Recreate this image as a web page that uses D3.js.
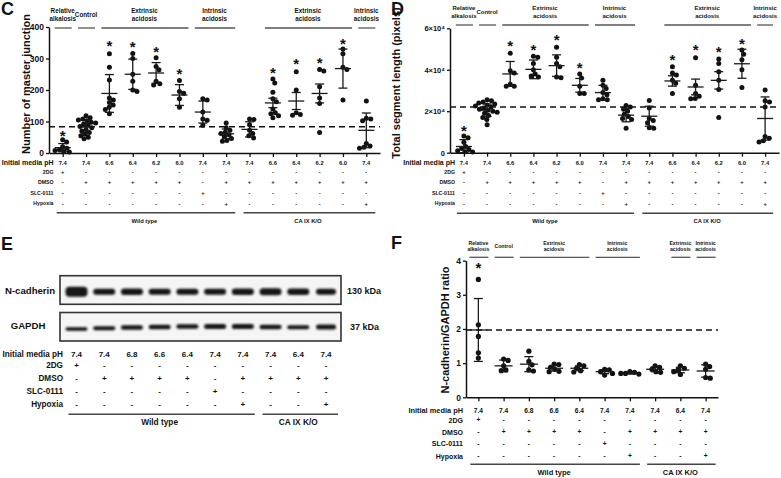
<!DOCTYPE html>
<html><head><meta charset="utf-8">
<script src="https://cdn.jsdelivr.net/npm/d3@7"></script>
<style>body{margin:0;background:#fff} svg{display:block} text{font-family:"Liberation Sans",Arial,sans-serif;fill:#111}</style>
</head><body><svg id="chart" width="781" height="478"></svg>
<script>
// ---------- condition table shared by panels C and D ----------
const cdPH      = ["7.4","7.4","6.6","6.4","6.2","6.0","7.4","7.4","7.4","6.6","6.4","6.2","6.0","7.4"];
const cd2DG     = ["+","-","-","-","-","-","-","-","-","-","-","-","-","-"];
const cdDMSO    = ["-","+","+","+","+","+","-","+","+","+","+","+","+","+"];
const cdSLC     = ["-","-","-","-","-","-","+","-","-","-","-","-","-","-"];
const cdHypoxia = ["-","-","-","-","-","-","-","+","-","-","-","-","-","+"];
const cdGroups  = [{name:"Wild type",from:0,to:7},{name:"CA IX K/O",from:8,to:13}];
const cdHeaders = [
  {lines:["Relative","alkalosis"],from:0,to:0},
  {lines:["Control"],from:1,to:1},
  {lines:["Extrinsic","acidosis"],from:2,to:5},
  {lines:["Intrinsic","acidosis"],from:6,to:7},
  {lines:["Extrinsic","acidosis"],from:9,to:12},
  {lines:["Intrinsic","acidosis"],from:13,to:13}
];
const rowLabels = ["Initial media pH","2DG","DMSO","SLC-0111","Hypoxia"];

// ---------- panel C: number of master junction ----------
const cPoints = [
  [42,35,20,15,10,8,5,3],
  [118,112,108,105,102,98,95,92,88,84,80,75,70,65,60,55,50,45],
  [315,272,232,175,168,160,152,145,138,125],
  [316,300,250,228,200,195],
  [302,275,264,228,220,216],
  [230,195,190,172,145],
  [172,168,130,108,104,88],
  [95,80,72,66,62,58,52,46,40,37],
  [108,106,90,72,62,55,48],
  [235,222,193,172,163,140,128,118,112,125],
  [258,200,128,122,120],
  [265,260,210,175,157,65],
  [330,315,272,265,168],
  [165,110,108,102,30,22,18,15]
];
const cMean = [17,83,189,250,254,184,130,61,75,159,165,189,268,72];
const cSd   = [13,22,60,48,33,33,35,15,24,15,27,30,62,55];
const cStar = [62,null,348,346,330,258,null,null,null,263,290,295,353,null];
const cRef  = 83;
const cTicks = [0,100,200,300,400];

// ---------- panel D: total segment length ----------
const dPoints = [
  [8000,7200,5000,3000,2000,1000,500,300,1500],
  [25500,25000,24500,24000,23500,23000,22500,22000,21500,21000,20500,20000,19500,19000,18000,17000,16000,13500],
  [48000,39500,38500,33000,32000,32000],
  [46500,46000,43000,40000,38000,37000,36500],
  [50800,46000,43000,41500,36500,36200],
  [38000,36000,32000,28500,28500],
  [35000,32500,31000,28000,26000,25500,25500,29000],
  [22800,22000,21000,20000,18500,17500,16500,16000,11800],
  [25200,21500,16500,15500,14500,12000,11800],
  [41500,38500,37500,35000,33500,28500],
  [45800,32500,28500,27200,26200,26000],
  [45200,43000,39000,35000,30500,17000],
  [49500,47500,44800,40000,31400],
  [30200,25000,24500,22000,7800,7000,5800,5200]
];
const dMean = [3000,20500,38000,40200,42000,32500,29000,18100,17600,34600,31700,34900,42900,16500];
const dSd   = [3300,3000,6000,4500,5200,3300,3500,3200,4800,2500,3800,4200,7000,10400];
const dStar = [11700,null,52500,50900,55400,42100,null,null,null,46100,50600,50000,53800,null];
const dRef  = 22000;
const dTicks = [0,20000,40000,60000];

// ---------- panels E and F: condition table ----------
const efPH      = ["7.4","7.4","6.8","6.6","6.4","7.4","7.4","7.4","6.4","7.4"];
const ef2DG     = ["+","-","-","-","-","-","-","-","-","-"];
const efDMSO    = ["-","+","+","+","+","-","+","+","+","+"];
const efSLC     = ["-","-","-","-","-","+","-","-","-","-"];
const efHypoxia = ["-","-","-","-","-","-","+","-","-","+"];
const efGroups  = [{name:"Wild type",from:0,to:6},{name:"CA IX K/O",from:7,to:9}];
const fHeaders = [
  {lines:["Relative","alkalosis"],from:0,to:0},
  {lines:["Control"],from:1,to:1},
  {lines:["Extrinsic","acidosis"],from:2,to:4},
  {lines:["Intrinsic","acidosis"],from:5,to:6},
  {lines:["Extrinsic","acidosis"],from:8,to:8},
  {lines:["Intrinsic","acidosis"],from:9,to:9}
];

// ---------- panel E: western blot band strengths ----------
const blotProteins = ["N-cadherin","GAPDH"];
const blotSizes    = ["130 kDa","37 kDa"];
const nCadBand  = [10,6,6.5,6,6,6,6.5,7,6.5,6];
const gapdhBand = [3.5,4,4.5,4.5,4.5,5,5,4.5,4,5];
const gapdhShift= [2.5,1.8,1,0.5,0,0,0,0.5,0.8,0.5];

// ---------- panel F: N-cadherin/GAPDH ratio ----------
const fPoints = [
  [3.45,2.12,1.78,1.3,1.15],
  [1.12,1.08,0.92,0.8,0.78],
  [1.35,1.05,0.95,0.8,0.77],
  [0.97,0.96,0.88,0.82,0.76,0.75],
  [0.96,0.92,0.85,0.78,0.74],
  [0.82,0.8,0.75,0.7,0.65],
  [0.75,0.73,0.7,0.68,0.7],
  [0.92,0.88,0.82,0.75,0.73],
  [0.92,0.85,0.8,0.75,0.67],
  [0.97,0.9,0.82,0.58,0.56]
];
const fMean = [1.97,0.92,0.97,0.85,0.85,0.75,0.71,0.82,0.8,0.77];
const fSd   = [0.92,0.17,0.22,0.08,0.07,0.06,0.03,0.07,0.08,0.18];
const fStar = [3.87,null,null,null,null,null,null,null,null,null];
const fRef  = 1.97;
const fTicks = [0,1,2,3,4];

// =====================================================================
const svg = d3.select("#chart");
svg.append("rect").attr("width",781).attr("height",478).attr("fill","#fff");
const defs = svg.append("defs");
defs.append("filter").attr("id","blur").attr("x","-20%").attr("y","-50%").attr("width","140%").attr("height","200%")
  .append("feGaussianBlur").attr("stdDeviation",0.9);

function beeswarm(vals, y, r) {
  const D = 2*r*0.9, placed = [], res = new Array(vals.length);
  const order = vals.map((v,i)=>i).sort((a,b)=>vals[b]-vals[a]);
  for (const i of order) {
    const py = y(vals[i]);
    const iv = [];
    for (const p of placed) {
      const dy = Math.abs(py-p.y);
      if (dy < D) { const h = Math.sqrt(D*D-dy*dy); iv.push([p.dx-h,p.dx+h]); }
    }
    const cands = [0];
    iv.forEach(([a,b])=>cands.push(a,b));
    cands.sort((a,b)=>Math.abs(a)-Math.abs(b) || b-a);
    let dx = 0;
    for (const c of cands) {
      if (iv.every(([a,b])=> c<=a+1e-6 || c>=b-1e-6)) { dx=c; break; }
    }
    placed.push({dx,y:py}); res[i]={dx,y:py};
  }
  return res;
}

function panelLetter(t,x,y){
  svg.append("text").attr("x",x).attr("y",y).attr("font-size",18).attr("font-weight","bold").text(t);
}

function yTitle(text, tx, ty) {
  svg.append("g").attr("transform",`translate(${tx},${ty})`)
    .append("text").attr("transform","rotate(-90)").attr("x",0).attr("y",0)
    .attr("text-anchor","middle").attr("font-size",11).attr("font-weight","bold").text(text);
}

function drawHeaders(headers, x, lineY, fs, padL, padR, x1) {
  const g = svg.append("g");
  headers.forEach(h=>{
    const a = x(h.from)-padL, b = Math.min(x(h.to)+padR, x1);
    g.append("line").attr("x1",a).attr("x2",b).attr("y1",lineY).attr("y2",lineY)
      .attr("stroke","#555").attr("stroke-width",1.3);
    const cx = (x(h.from)+x(h.to))/2;
    if (h.lines.length===2) {
      h.lines.forEach((l,i)=> g.append("text").attr("x",cx).attr("y",lineY-fs*2.7+i*fs*1.25)
        .attr("text-anchor","middle").attr("dominant-baseline","middle")
        .attr("font-size",fs).attr("font-weight","bold").text(l));
    } else {
      g.append("text").attr("x",cx).attr("y",lineY-fs*2.05).attr("text-anchor","middle")
        .attr("dominant-baseline","middle").attr("font-size",fs).attr("font-weight","bold").text(h.lines[0]);
    }
  });
}

function drawTable(x, cols, rowYs, labelX, labelSizes, valSize) {
  const g = svg.append("g");
  cols.forEach((vals,ri)=>{
    g.append("text").attr("x",labelX).attr("y",rowYs[ri]).attr("text-anchor","end")
      .attr("dominant-baseline","middle").attr("font-size",labelSizes[ri]).attr("font-weight","bold").text(rowLabels[ri]);
    vals.forEach((v,i)=> g.append("text").attr("x",x(i)).attr("y",rowYs[ri]).attr("text-anchor","middle")
      .attr("dominant-baseline","middle").attr("font-size",valSize).attr("font-weight","bold").text(v));
  });
}

function drawGroups(x, groups, lineY, labelY, fs, padL, padR) {
  const g = svg.append("g");
  groups.forEach(gr=>{
    g.append("line").attr("x1",x(gr.from)-padL).attr("x2",x(gr.to)+padR).attr("y1",lineY).attr("y2",lineY)
      .attr("stroke","#444").attr("stroke-width",1.6);
    g.append("text").attr("x",(x(gr.from)+x(gr.to))/2).attr("y",labelY).attr("text-anchor","middle")
      .attr("dominant-baseline","middle").attr("font-size",fs).attr("font-weight","bold").text(gr.name);
  });
}

function drawScatter(c) {
  const n = c.points.length;
  const x = d3.scalePoint().domain(d3.range(n)).range([c.x0,c.x1]).padding(c.pad);
  const y = d3.scaleLinear().domain(c.domain).range([c.yB,c.yT]);
  const g = svg.append("g");
  const ax = g.append("g").attr("transform",`translate(0,${c.yB})`)
    .call(d3.axisBottom(x).tickSize(4).tickSizeOuter(0).tickFormat(""));
  const ay = g.append("g").attr("transform",`translate(${c.x0},0)`)
    .call(d3.axisLeft(y).tickValues(c.ticks).tickSize(3).tickSizeOuter(0).tickPadding(2).tickFormat(c.fmt));
  [ax,ay].forEach(a=>{
    a.select(".domain").attr("stroke","#111").attr("stroke-width",1.5);
    a.selectAll(".tick line").attr("stroke","#111").attr("stroke-width",1.3);
    a.selectAll(".tick text").attr("font-size",c.tickFs).attr("font-weight","bold").attr("fill","#111")
      .style("font-family","'Liberation Sans',Arial,sans-serif");
  });
  g.append("line").attr("x1",c.x0).attr("x2",c.x1).attr("y1",y(c.ref)).attr("y2",y(c.ref))
    .attr("stroke","#111").attr("stroke-width",1.5).attr("stroke-dasharray","6,4");
  c.points.forEach((vals,i)=>{
    const sw = beeswarm(vals,y,c.r);
    sw.forEach(p=> g.append("circle").attr("cx",x(i)+p.dx).attr("cy",p.y).attr("r",c.r).attr("fill","#111"));
  });
  c.mean.forEach((m,i)=>{
    const cx = x(i), lo = Math.max(c.domain[0], m-c.sd[i]), hi = m+c.sd[i];
    const L = (x1,x2,y1,y2)=> g.append("line").attr("x1",x1).attr("x2",x2).attr("y1",y1).attr("y2",y2)
      .attr("stroke","#1a1a1a").attr("stroke-width",1.3);
    L(cx,cx,y(lo),y(hi));
    L(cx-c.cap,cx+c.cap,y(hi),y(hi));
    L(cx-c.cap,cx+c.cap,y(lo),y(lo));
    L(cx-c.mw,cx+c.mw,y(m),y(m));
  });
  c.star.forEach((s,i)=>{ if (s!=null)
    g.append("text").attr("x",x(i)).attr("y",y(s)+7.5).attr("text-anchor","middle")
      .attr("font-size",15).attr("font-weight","bold").text("*"); });
  yTitle(c.title, c.titleX, c.titleY);
  return x;
}

// ---------------- Panel C ----------------
panelLetter("C",1,15);
const xC = drawScatter({points:cPoints,mean:cMean,sd:cSd,star:cStar,ref:cRef,ticks:cTicks,
  domain:[0,400],x0:49,x1:380,pad:0.586,yB:153,yT:27,fmt:d3.format("d"),tickFs:8.5,r:2.5,cap:4.5,mw:8,
  title:"Number of master junction",titleX:29.5,titleY:84});
drawHeaders(cdHeaders,xC,28,6.3,8,9,380);
drawTable(xC,[cdPH,cd2DG,cdDMSO,cdSLC,cdHypoxia],[163.3,172.7,182.5,193.3,204],53.5,[7,5.2,5.2,5.2,5.2],5.8);
drawGroups(xC,cdGroups,212.7,221.7,5.8,6,9);

// ---------------- Panel D ----------------
panelLetter("D",391,15);
const xD = drawScatter({points:dPoints,mean:dMean,sd:dSd,star:dStar,ref:dRef,ticks:dTicks,
  domain:[0,60000],x0:450,x1:779,pad:0.6,yB:152.7,yT:28.3,fmt:d=> d===0?"0":`${d/1e4}×10⁴`,tickFs:7.5,r:2.5,cap:4.5,mw:8,
  title:"Total segment length (pixels)",titleX:399.5,titleY:83});
drawHeaders(cdHeaders,xD,25,6,8,9,773);
drawTable(xD,[cdPH,cd2DG,cdDMSO,cdSLC,cdHypoxia],[163.3,172.7,182.5,193.3,204],455,[7,5.2,5.2,5.2,5.2],5.8);
drawGroups(xD,cdGroups,213.3,221.5,5.8,7,8);

// ---------------- Panel E ----------------
panelLetter("E",1,250);
const xE = d3.scalePoint().domain(d3.range(efPH.length)).range([76.5,326]);
const blots = [
  {y0:275.7,y1:304.3,cy:291.7,h:nCadBand,shift:nCadBand.map(()=>0)},
  {y0:312.5,y1:341,cy:326.5,h:gapdhBand,shift:gapdhShift}
];
blots.forEach((b,bi)=>{
  const g = svg.append("g");
  g.append("rect").attr("x",60).attr("y",b.y0).attr("width",281).attr("height",b.y1-b.y0)
    .attr("fill","#f5f5f5").attr("stroke","#333").attr("stroke-width",1.6);
  b.h.forEach((h,i)=>{
    const w = i===9 ? 20 : 22;
    g.append("rect").attr("x",xE(i)-w/2).attr("y",b.cy+b.shift[i]-h/2).attr("width",w).attr("height",h)
      .attr("rx",Math.min(h/2,4)).attr("fill","#141414").attr("filter","url(#blur)");
  });
  svg.append("text").attr("x",bi===0?5:28).attr("y",b.cy).attr("text-anchor",bi===0?"start":"middle")
    .attr("dominant-baseline","middle").attr("font-size",9.6).attr("font-weight","bold").text(blotProteins[bi]);
  svg.append("text").attr("x",bi===0?347:350).attr("y",b.cy+(bi===1?1:0)).attr("dominant-baseline","middle")
    .attr("font-size",9).attr("font-weight","bold").text(blotSizes[bi]);
});
drawTable(xE,[efPH,ef2DG,efDMSO,efSLC,efHypoxia],[355,366.3,378.7,391.7,405],63,[8.2,8.2,8.2,8.2,8.2],8);
drawGroups(xE,efGroups,414.3,422.7,8.3,8,12);

// ---------------- Panel F ----------------
panelLetter("F",391,249);
const xF = drawScatter({points:fPoints,mean:fMean,sd:fSd,star:fStar,ref:fRef,ticks:fTicks,
  domain:[0,4],x0:466,x1:718,pad:0.49,yB:397.3,yT:260.6,fmt:d3.format("d"),tickFs:8.5,r:2.6,cap:4.5,mw:9,
  title:"N-cadherin/GAPDH ratio",titleX:449,titleY:330});
drawHeaders(fHeaders,xF,257.3,5.2,9,10,718);
drawTable(xF,[efPH,ef2DG,efDMSO,efSLC,efHypoxia],[411,420.7,432.7,444.3,456.7],463,[7.4,7,7,7,7],6.6);
drawGroups(xF,efGroups,464.3,472.7,7.5,8,10);
</script></body></html>
